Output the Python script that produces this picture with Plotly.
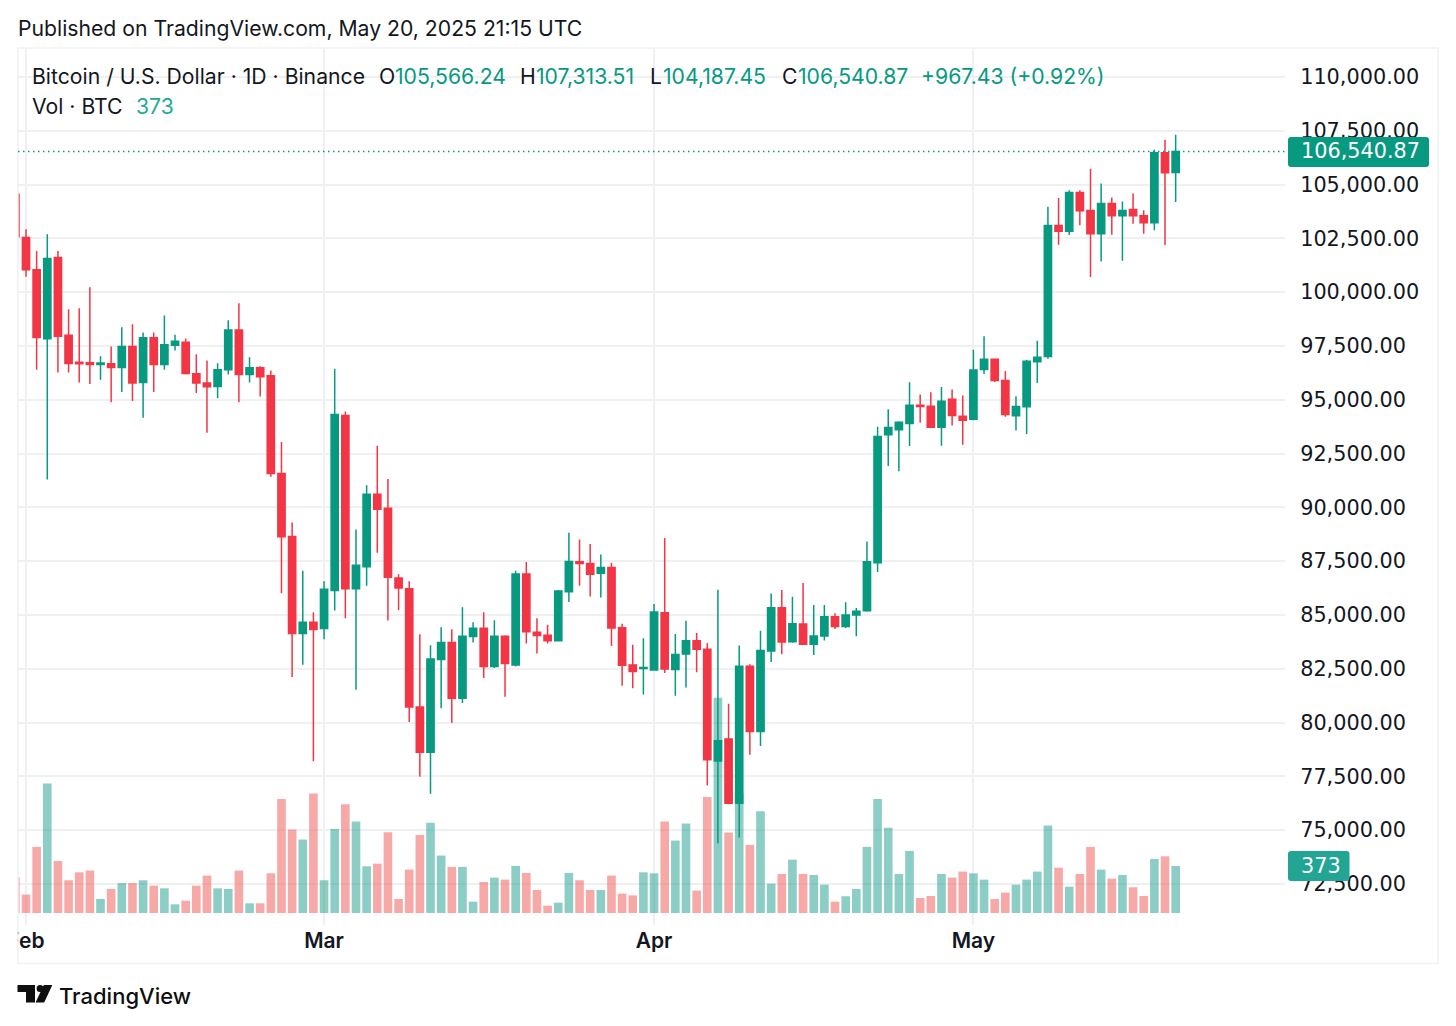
import datetime as dt
import plotly.graph_objects as go

W, H = 1456, 1026
start = dt.date(2025, 1, 31)
dates = [(start + dt.timedelta(days=i)).isoformat() for i in range(110)]

opens = [104552,102543,101045,97831,101616,98001,96750,96719,96642,96672,96502,97476,95807,97878,96642,97538,97677,96209,95776,95622,96394,98248,96178,96487,96116,
         91570,88650,84139,84664,
         84371,86132,94274,86224,87244,90612,89963,86719,86224,80724,78623,82934,83722,81126,84000,84386,82609,84015,82671,86904,84200,84061,83799,86085,87469,87392,86944,87206,84410,82680,82510,
         82448,85105,82463,83190,83807,83406,78215,79234,76252,82618,79590,83329,85337,83761,84583,83640,84027,84923,84459,85000,85201,87426,93374,93606,93899,94749,94703,93729,95027,94239,
         94100,96402,96881,95892,94255,94671,96773,97012,103100,102837,104629,103795,102713,104119,103548,103841,103548,103223,106483,105566.24]
highs = [106000,102930,101910,102698,101910,99206,99253,100226,97028,97476,98372,98511,98125,98125,98912,98017,97847,97121,96827,96703,98696,99484,96981,96564,96363,
         93038,89299,87059,85128,
         86564,96437,94459,88975,91029,92868,91323,86889,86564,84108,83598,84432,84340,85359,84664,85128,84757,84061,87059,87460,84849,84541,86163,88820,88504,88303,87809,87423,84595,83622,83916,
         85507,88581,84116,84734,84163,83699,86171,80872,83576,82711,84271,86001,86156,85847,86483,85464,85464,85077,85587,85324,88414,93745,94564,94007,95815,95243,95352,95599,95475,95197,
         97329,97947,96912,96340,95166,96866,97746,103965,104382,104737,104737,105742,105046,104397,104212,104583,103810,106622,107086,107313.51]
lows = [101500,100720,96394,91296,96271,96271,95807,95730,95931,94880,95359,94942,94170,95359,96394,97290,96178,95313,93474,95066,96178,94880,95807,95158,91419,
        86008,82115,82686,78206,
        83876,85205,84849,81528,86363,87893,84741,85236,80029,77480,76692,80662,79983,80910,83722,82069,82532,81203,82609,83675,83211,83675,83768,85606,86357,85862,85816,83560,81706,81598,81305,
        82417,82309,81243,81629,82340,77071,74398,76200,74661,78508,78910,82819,83174,83715,83640,83146,83810,84351,84397,84011,85155,86993,91922,91674,92849,93930,93698,92864,93807,92910,
        94050,96201,95830,94208,93575,93405,95784,96904,102204,102652,103115,100705,101431,102667,101462,103177,102713,102883,102188,104187.45]
closes = [102574,101045,97893,101570,97955,96688,96672,96642,96704,96502,97476,95776,97878,96642,97553,97723,96224,95776,95606,96394,98248,96178,96487,96070,91570,
          88635,84139,84664,84324,
          86194,94320,86224,87306,90612,89917,86750,86255,80724,78623,82949,83722,81126,84015,84386,82609,84015,82748,86904,84216,84046,83799,86116,87491,87392,86897,87206,84395,82664,82371,82556,
          85136,82494,83159,83807,83406,78276,79157,76252,82618,79590,83344,85337,83746,84595,83640,84027,84923,84459,85000,85170,87472,93297,93714,93961,94749,94687,93729,94934,94270,94054,
          96387,96881,95892,94316,94687,96788,96974,103100,102837,104629,103779,102713,104119,103548,103795,103548,103223,106483,105556,106540.87]
volumes = [284,146,525,1028,413,260,323,337,111,191,238,238,260,217,196,69,98,217,297,196,191,337,77,77,315,906,663,583,949,
           260,668,864,726,371,392,641,111,345,620,716,456,366,366,90,246,281,265,374,318,183,58,82,318,260,183,183,297,154,140,323,
           315,726,575,710,178,922,1709,639,953,541,808,233,310,424,310,302,225,90,133,191,525,906,676,310,493,119,135,310,281,329,
           315,265,111,162,225,265,329,694,360,209,310,525,345,273,302,204,135,429,450,373]
price_ticks = [70000 + 2500 * i for i in range(17)]
month_labels = ["Feb", "Mar", "Apr", "May"]
month_dates = ["2025-02-01", "2025-03-01", "2025-04-01", "2025-05-01"]

GREEN, RED = "#089981", "#F23645"
VOL_GREEN, VOL_RED = "rgba(26,155,140,0.5)", "rgba(239,83,80,0.5)"
INK, GRID = "#131722", "#EFF0F2"
FONT = "Inter"
AXIS_FONT = "DejaVu Sans"
AXIS_SIZE = 20.8
LAST = closes[-1]

PANE_L, PANE_R, PANE_T, PANE_B = 18, 1285, 48, 925
DAY_PX = 10.645
X_FEB1 = 26.0
PX_PER_USD = 1 / 46.47
Y_110K = 77
VOL_BASE = 913
BTC_PER_PX = 7.94


def px(x):
    return x / W


def py(y):
    return 1 - y / H


def x_at(pixel):
    d = dt.datetime(2025, 2, 1) + dt.timedelta(days=(pixel - X_FEB1) / DAY_PX)
    return d.isoformat()


def price_at(y):
    return 110000 - (y - Y_110K) / PX_PER_USD


bar_colors = [VOL_GREEN if c >= o else VOL_RED for o, c in zip(opens, closes)]

fig = go.Figure()
fig.add_trace(go.Bar(x=dates, y=volumes, marker=dict(color=bar_colors, line_width=0),
                     width=0.81 * 86400000, xaxis="x", yaxis="y", showlegend=False, hoverinfo="skip"))
fig.add_trace(go.Candlestick(
    x=dates, open=opens, high=highs, low=lows, close=closes, xaxis="x", yaxis="y2", showlegend=False,
    increasing=dict(line=dict(color=GREEN, width=1.5), fillcolor=GREEN),
    decreasing=dict(line=dict(color=RED, width=1.5), fillcolor=RED), hoverinfo="skip"))


def rrect(x0, y0, x1, y1, r):
    a, b, c, d = px(x0), py(y0), px(x1), py(y1)
    rx, ry = r / W, r / H
    return (f"M{a+rx},{b} L{c-rx},{b} Q{c},{b} {c},{b-ry} L{c},{d+ry} Q{c},{d} {c-rx},{d} "
            f"L{a+rx},{d} Q{a},{d} {a},{d+ry} L{a},{b-ry} Q{a},{b} {a+rx},{b} Z")


def poly(points):
    return "M" + " L".join(f"{px(x)},{py(y)}" for x, y in points) + " Z"


shapes = [
    dict(type="rect", xref="paper", yref="paper", x0=0, x1=px(17.5), y0=py(963), y1=py(48),
         fillcolor="white", line_width=0, layer="above"),
    dict(type="rect", xref="paper", yref="paper", x0=px(18), x1=px(1438), y0=py(963.5), y1=py(48),
         fillcolor="rgba(0,0,0,0)", line=dict(color="#F0F1F2", width=1.5), layer="above"),
    dict(type="line", xref="x", yref="y2", x0=x_at(PANE_L), x1=x_at(PANE_R), y0=LAST, y1=LAST,
         line=dict(color=GREEN, width=1.5, dash="1.5px,3.5px"), layer="above"),
    dict(type="path", xref="paper", yref="paper", path=rrect(1288, 137, 1429, 167, 3),
         fillcolor=GREEN, line_width=0, layer="above"),
    dict(type="path", xref="paper", yref="paper", path=rrect(1288, 851, 1349.5, 881, 3),
         fillcolor="#22A594", line_width=0, layer="above"),
    # TradingView mark
    dict(type="path", xref="paper", yref="paper",
         path=poly([(17.5, 985), (35, 985), (35, 1002.5), (26, 1002.5), (26, 992), (17.5, 992)]),
         fillcolor="#0F0F0F", line_width=0, layer="above"),
    dict(type="path", xref="paper", yref="paper",
         path=poly([(43.8, 985), (52.3, 985), (44.2, 1002.5), (35.6, 1002.5)]),
         fillcolor="#0F0F0F", line_width=0, layer="above"),
    dict(type="circle", xref="paper", yref="paper", x0=px(36.6), x1=px(43.6), y0=py(992), y1=py(985),
         fillcolor="#0F0F0F", line_width=0, layer="above"),
]


def label(text, x, y, color=INK, size=21.2, weight=400, family=FONT):
    return dict(text=text, xref="paper", yref="paper", x=px(x), y=py(y), xanchor="left", yanchor="middle",
                showarrow=False, align="left", borderpad=0,
                font=dict(family=family, size=size, color=color, weight=weight))


annotations = [
    label("Published on TradingView.com, May 20, 2025 21:15 UTC", 17, 28),
    label("Bitcoin / U.S. Dollar · 1D · Binance", 31, 76),
    label("O", 378, 76), label("105,566.24", 394, 76, GREEN),
    label("H", 519, 76), label("107,313.51", 535, 76, GREEN),
    label("L", 649, 76), label("104,187.45", 662, 76, GREEN),
    label("C", 781, 76), label("106,540.87", 797, 76, GREEN),
    label("+967.43 (+0.92%)", 920, 76, GREEN),
    label("Vol · BTC", 31, 106), label("373", 134.5, 106, "#22AB94"),
    label("106,540.87", 1299.5, 151, "white", AXIS_SIZE, 400, AXIS_FONT),
    label("373", 1299.5, 865.5, "white", AXIS_SIZE, 400, AXIS_FONT),
    label("TradingView", 57.5, 996, "#0F0F0F", 22, 500),
]

fig.update_layout(
    width=W, height=H, autosize=False, margin=dict(l=0, r=0, t=0, b=0, pad=0, autoexpand=False),
    paper_bgcolor="white", plot_bgcolor="white", showlegend=False, boxgap=0.32, boxgroupgap=0, barmode="overlay",
    xaxis=dict(domain=[px(PANE_L), px(PANE_R)], range=[x_at(PANE_L), x_at(PANE_R)], type="date",
               tickmode="array", tickvals=month_dates, ticktext=month_labels,
               tickfont=dict(family=FONT, size=21, color=INK, weight=600),
               showgrid=True, gridcolor=GRID, gridwidth=1.5, zeroline=False, showline=False,
               ticks="outside", ticklen=4, tickcolor="rgba(0,0,0,0)", ticklabelstandoff=-7,
               rangeslider=dict(visible=False), anchor="y", fixedrange=True),
    yaxis=dict(domain=[py(PANE_B), py(PANE_T)],
               range=[(VOL_BASE - PANE_B) * BTC_PER_PX, (VOL_BASE - PANE_T) * BTC_PER_PX],
               showgrid=False, zeroline=False, showticklabels=False, ticks="", anchor="x", fixedrange=True),
    yaxis2=dict(domain=[py(PANE_B), py(PANE_T)], range=[price_at(PANE_B), price_at(PANE_T)],
                overlaying="y", side="right", anchor="x",
                tickmode="array", tickvals=price_ticks, tickformat=",.2f",
                tickfont=dict(family=AXIS_FONT, size=AXIS_SIZE, color=INK),
                showgrid=True, gridcolor=GRID, gridwidth=1.5, zeroline=False, showline=False,
                ticks="outside", ticklen=10, tickcolor="rgba(0,0,0,0)", fixedrange=True),
    shapes=shapes, annotations=annotations,
)
fig.write_html("out.html", config=dict(displayModeBar=False),
               post_script="document.body.style.margin='0';document.documentElement.style.overflow='hidden';")
